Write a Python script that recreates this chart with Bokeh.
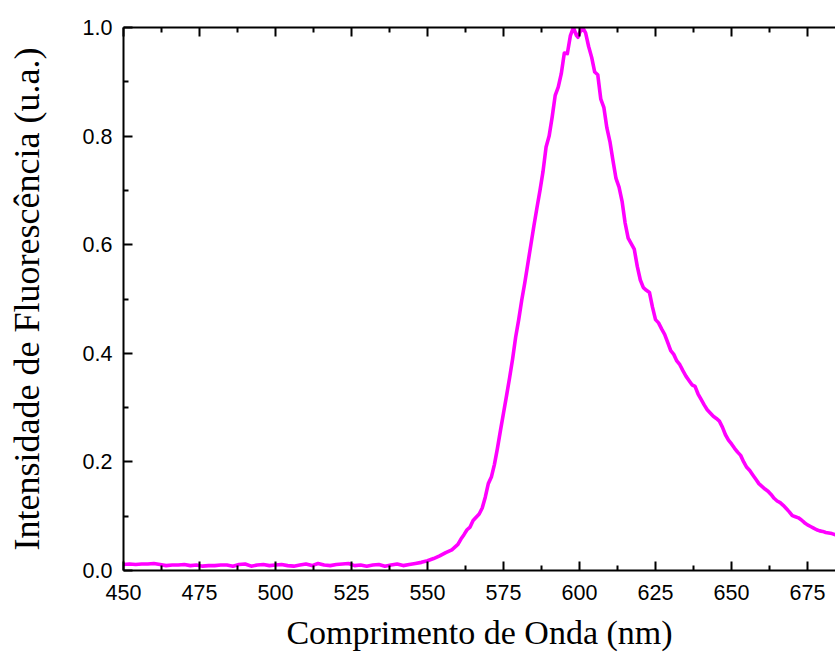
from bokeh.plotting import figure
from bokeh.models import LinearAxis, Range1d, FixedTicker, NumeralTickFormatter
from bokeh.embed import file_html
from bokeh.resources import INLINE

# Wavelength (nm)
wavelength = [
    450, 452, 454, 456, 458, 460, 462, 464, 466, 468, 470, 472, 474, 476, 478,
    480, 482, 484, 486, 488, 490, 492, 494, 496, 498, 500, 502, 504, 506, 508,
    510, 512, 514, 516, 518, 520, 522, 524, 526, 528, 530, 532, 534, 536, 538,
    540, 542, 544, 546, 548, 550, 552, 554, 556, 558, 560, 561, 562, 563, 564,
    565, 566, 567, 568, 569, 570, 571, 572, 573, 574, 575, 576, 577, 578, 579,
    580, 581, 582, 583, 584, 585, 586, 587, 588, 589, 590, 591, 592, 593, 594,
    595, 596, 597, 598, 599, 599.5, 600, 601, 602, 603, 604, 605, 606, 607, 608,
    609, 610, 611, 612, 613, 614, 615, 616, 617, 618, 619, 620, 621, 622, 623,
    624, 625, 626, 627, 628, 629, 630, 631, 632, 633, 634, 635, 636, 637, 638,
    639, 640, 641, 642, 643, 644, 645, 646, 647, 648, 649, 650, 651, 652, 653,
    654, 655, 656, 657, 658, 659, 660, 661, 662, 663, 664, 665, 666, 667, 668,
    669, 670, 671, 672, 673, 674, 675, 676, 677, 678, 679, 680, 681, 682, 683,
    684, 685,
]

# Normalised fluorescence intensity (a.u.)
intensity = [
    0.011, 0.012, 0.011, 0.012, 0.012, 0.013, 0.011, 0.009, 0.010, 0.010, 0.011, 0.009, 0.010, 0.008, 0.009,
    0.009, 0.010, 0.010, 0.008, 0.011, 0.012, 0.008, 0.010, 0.011, 0.009, 0.010, 0.011, 0.009, 0.008, 0.010,
    0.012, 0.009, 0.013, 0.010, 0.009, 0.011, 0.012, 0.013, 0.009, 0.010, 0.008, 0.010, 0.011, 0.008, 0.010,
    0.012, 0.009, 0.011, 0.013, 0.015, 0.018, 0.022, 0.027, 0.033, 0.038, 0.048, 0.058, 0.066, 0.075, 0.080,
    0.092, 0.098, 0.104, 0.115, 0.135, 0.160, 0.172, 0.195, 0.225, 0.258, 0.290, 0.322, 0.355, 0.390, 0.430,
    0.462, 0.498, 0.530, 0.565, 0.600, 0.635, 0.668, 0.700, 0.735, 0.780, 0.800, 0.835, 0.875, 0.890, 0.915,
    0.953, 0.952, 0.985, 1.000, 0.985, 0.982, 0.990, 1.000, 0.990, 0.965, 0.945, 0.918, 0.913, 0.868, 0.853,
    0.815, 0.790, 0.755, 0.722, 0.706, 0.680, 0.640, 0.612, 0.602, 0.592, 0.560, 0.535, 0.521, 0.516, 0.512,
    0.485, 0.462, 0.456, 0.445, 0.435, 0.420, 0.405, 0.398, 0.386, 0.379, 0.368, 0.358, 0.350, 0.342, 0.339,
    0.325, 0.315, 0.305, 0.296, 0.290, 0.284, 0.280, 0.275, 0.264, 0.250, 0.240, 0.233, 0.225, 0.218, 0.212,
    0.200, 0.190, 0.184, 0.176, 0.168, 0.160, 0.155, 0.150, 0.146, 0.140, 0.133, 0.128, 0.125, 0.120, 0.114,
    0.108, 0.101, 0.099, 0.097, 0.093, 0.088, 0.084, 0.081, 0.078, 0.075, 0.073, 0.072, 0.070, 0.069, 0.068,
    0.066, 0.065,
]

x_ticks = [450, 475, 500, 525, 550, 575, 600, 625, 650, 675]
x_minor = [462.5, 487.5, 512.5, 537.5, 562.5, 587.5, 612.5, 637.5, 662.5, 687.5]
y_ticks = [0.0, 0.2, 0.4, 0.6, 0.8, 1.0]
y_minor = [0.1, 0.3, 0.5, 0.7, 0.9]

SANS = "Liberation Sans"
SERIF = "Liberation Serif"

p = figure(
    width=835, height=653,
    output_backend="svg", toolbar_location=None,
    x_range=Range1d(450, 684.2), y_range=Range1d(0, 1.0),
    min_border_left=123, min_border_right=0, min_border_top=27, min_border_bottom=82,
    x_axis_label="Comprimento de Onda (nm)",
    y_axis_label="Intensidade de Fluorescência (u.a.)",
)
p.outline_line_color = None
p.grid.visible = False
p.background_fill_color = "white"
p.border_fill_color = "white"

p.line(wavelength, intensity, line_color="#FF00FF", line_width=3.6, line_join="round")


def style_axis(ax, ticks, minor):
    ax.ticker = FixedTicker(ticks=ticks, minor_ticks=minor)
    ax.axis_line_width = 2
    ax.axis_line_color = "black"
    ax.major_tick_line_width = 2
    ax.minor_tick_line_width = 2
    ax.major_tick_in = 9
    ax.major_tick_out = 0
    ax.minor_tick_in = 5
    ax.minor_tick_out = 0
    ax.major_label_text_font = SANS
    ax.major_label_text_font_size = "21.5px"
    ax.major_label_text_color = "black"
    ax.axis_label_text_font = SERIF
    ax.axis_label_text_font_style = "normal"
    ax.axis_label_text_color = "black"


xa = p.xaxis[0]
style_axis(xa, x_ticks, x_minor)
xa.major_label_standoff = 14
xa.axis_label_text_font_size = "34px"
xa.axis_label_standoff = 11

ya = p.yaxis[0]
style_axis(ya, y_ticks, y_minor)
ya.formatter = NumeralTickFormatter(format="0.0")
ya.major_label_standoff = 11
ya.axis_label_text_font_size = "36px"
ya.axis_label_standoff = 33

top = LinearAxis()
style_axis(top, x_ticks, x_minor)
top.major_label_text_font_size = "1px"
top.major_label_text_color = None
top.major_label_standoff = 0
p.add_layout(top, "above")

open("out.html", "w").write(file_html(p, INLINE))
